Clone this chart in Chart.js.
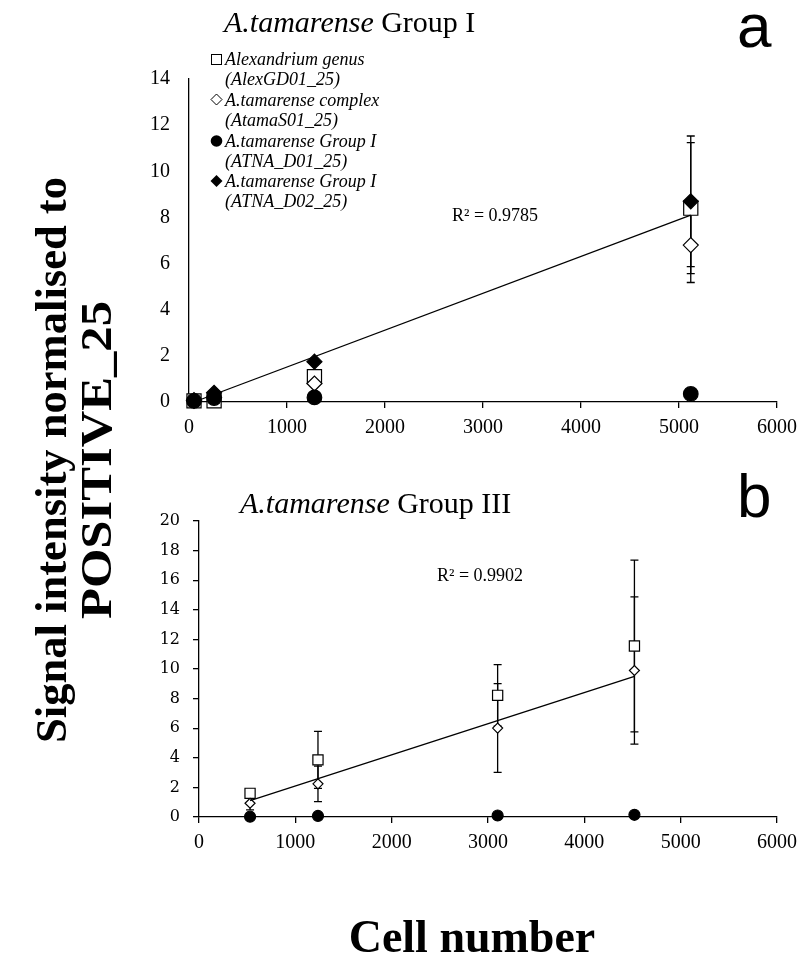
<!DOCTYPE html>
<html>
<head>
<meta charset="utf-8">
<script src="https://cdn.jsdelivr.net/npm/chart.js@4.4.1/dist/chart.umd.min.js"></script>
<style>
	html, body { margin: 0; padding: 0; background: #fff; }
	#page { position: relative; width: 805px; height: 962px; overflow: hidden; }
	#chart-a { position: absolute; left: 0; top: 0; }
	#chart-b { position: absolute; left: 0; top: 470px; }
	#labels { position: absolute; left: 0; top: 0; pointer-events: none; }
</style>
</head>
<body>
<div id="page">
	<canvas id="chart-a" width="805" height="460"></canvas>
	<canvas id="chart-b" width="805" height="400"></canvas>
	<svg id="labels" width="805" height="962" font-family="'Liberation Serif', 'Times New Roman', serif" fill="#000">
		<text x="224" y="32" font-size="30"><tspan font-style="italic">A.tamarense</tspan> Group I</text>
		<text x="737" y="47" font-family="'Liberation Sans', Arial, sans-serif" font-size="62">a</text>

		<g font-size="18" font-style="italic">
			<rect x="211.5" y="54.5" width="10" height="10" fill="#fff" stroke="#000" stroke-width="1"/>
			<text x="225" y="65">Alexandrium genus</text>
			<text x="225" y="85">(AlexGD01_25)</text>
			<polygon points="216.5,94 222,99.5 216.5,105 211,99.5" fill="#fff" stroke="#000" stroke-width="1"/>
			<text x="225" y="106">A.tamarense complex</text>
			<text x="225" y="126">(AtamaS01_25)</text>
			<circle cx="216.5" cy="141" r="5.8"/>
			<text x="225" y="147">A.tamarense Group I</text>
			<text x="225" y="167">(ATNA_D01_25)</text>
			<polygon points="216.5,175 222.5,181 216.5,187 210.5,181"/>
			<text x="225" y="187">A.tamarense Group I</text>
			<text x="225" y="207">(ATNA_D02_25)</text>
		</g>
		<text x="452" y="221" font-size="18">R² = 0.9785</text>

		<text x="240" y="513" font-size="30"><tspan font-style="italic">A.tamarense</tspan> Group III</text>
		<text x="737" y="517" font-family="'Liberation Sans', Arial, sans-serif" font-size="62">b</text>
		<text x="437" y="581" font-size="18">R² = 0.9902</text>

		<text x="472" y="952" text-anchor="middle" font-weight="bold" font-size="46">Cell number</text>
		<g font-weight="bold" font-size="44" text-anchor="middle">
			<text transform="translate(66,460) rotate(-90)" textLength="566" lengthAdjust="spacingAndGlyphs">Signal intensity normalised to</text>
			<text transform="translate(111,460) rotate(-90)" textLength="318" lengthAdjust="spacingAndGlyphs">POSITIVE_25</text>
		</g>
	</svg>
</div>
<script>
// ---- panel a: A.tamarense Group I ----
const CELLS_A = [51, 256, 1280, 5120];
const GENUS_A = [0.05, 0.05, 1.1, 8.4];
const GENUS_A_ERR = [null, null, null, 2.84];
const COMPLEX_A = [0.05, 0.2, 0.8, 6.8];
const COMPLEX_A_ERR = [null, null, null, 1.62];
const D01_A = [0.05, 0.17, 0.2, 0.35];
const D02_A = [0.08, 0.4, 1.75, 8.7];
const D02_A_ERR = [null, null, null, 2.83];
const TREND_A_X = [51, 5120];
const TREND_A_Y = [0, 8.1];

// ---- panel b: A.tamarense Group III ----
const CELLS_B = [530, 1235, 3100, 4520];
const GENUS_B = [1.6, 3.86, 8.22, 11.55];
const GENUS_B_ERR = [null, 1.92, 2.08, 5.8];
const COMPLEX_B = [0.93, 2.24, 6.01, 9.9];
const COMPLEX_B_ERR = [0.45, 1.2, 3.0, 4.97];
const D01_B = [0.02, 0.07, 0.1, 0.15];
const TREND_B_X = [530, 4520];
const TREND_B_Y = [1.1, 9.5];

const X_MAX = 6000;
const X_STEP = 1000;
const Y_MAX_A = 14;
const Y_MAX_B = 20;
const Y_STEP = 2;

const pts = (xs, ys) => xs.map((x, i) => ({ x: x, y: ys[i] }));
const TICK_FONT = { family: "'Liberation Serif', 'Times New Roman', serif", size: 20 };

// vertical error bars with caps, drawn behind the markers
const errorBars = {
	id: "errorBars",
	beforeDatasetsDraw(chart) {
		const { ctx } = chart;
		const xs = chart.scales.x;
		const ys = chart.scales.y;
		ctx.save();
		ctx.strokeStyle = "#000";
		ctx.lineWidth = 1.3;
		chart.data.datasets.forEach((ds) => {
			if (!ds.errors) return;
			ds.data.forEach((p, i) => {
				const e = ds.errors[i];
				if (e == null) return;
				const px = xs.getPixelForValue(p.x);
				const top = ys.getPixelForValue(p.y + e);
				const bot = ys.getPixelForValue(p.y - e);
				ctx.beginPath();
				ctx.moveTo(px, top);
				ctx.lineTo(px, bot);
				ctx.moveTo(px - 4, top);
				ctx.lineTo(px + 4, top);
				ctx.moveTo(px - 4, bot);
				ctx.lineTo(px + 4, bot);
				ctx.stroke();
			});
		});
		ctx.restore();
	},
};

const marker = (style, radius, fill) => ({
	pointStyle: style,
	pointRadius: radius,
	pointHoverRadius: radius,
	pointBackgroundColor: fill,
	pointBorderColor: "#000",
	pointBorderWidth: 1.2,
	showLine: false,
	clip: false,
});

const trend = (xs, ys) => ({
	data: pts(xs, ys),
	showLine: true,
	pointRadius: 0,
	borderColor: "#000",
	borderWidth: 1.3,
	clip: false,
});

const axisX = (height) => ({
	type: "linear",
	min: 0,
	max: X_MAX,
	ticks: {
		stepSize: X_STEP,
		font: TICK_FONT,
		color: "#000",
		padding: 8,
		maxRotation: 0,
		callback: (v) => String(v),
	},
	grid: { drawOnChartArea: false, drawTicks: true, tickLength: 6, color: "#000", lineWidth: 1.3 },
	border: { display: true, color: "#000", width: 1.3 },
	afterFit: (s) => { s.height = height; },
});

// panel a -- first dataset is drawn on top
new Chart(document.getElementById("chart-a"), {
	type: "scatter",
	data: {
		datasets: [
			trend(TREND_A_X, TREND_A_Y),
			{ data: pts(CELLS_A, D02_A), errors: D02_A_ERR, ...marker("rectRot", 7.5, "#000") },
			{ data: pts(CELLS_A, D01_A), ...marker("circle", 7.3, "#000") },
			{ data: pts(CELLS_A, COMPLEX_A), errors: COMPLEX_A_ERR, ...marker("rectRot", 7.5, "#fff") },
			{ data: pts(CELLS_A, GENUS_A), errors: GENUS_A_ERR, ...marker("rect", 10, "#fff") },
		],
	},
	options: {
		responsive: false,
		animation: false,
		layout: { padding: { top: 79, right: 28, left: 0, bottom: 0 } },
		plugins: { legend: { display: false }, tooltip: { enabled: false } },
		scales: {
			x: axisX(58),
			y: {
				type: "linear",
				min: 0,
				max: Y_MAX_A,
				ticks: { stepSize: Y_STEP, font: TICK_FONT, color: "#000", padding: 19 },
				grid: { display: false, drawTicks: false },
				border: { display: true, color: "#000", width: 1.3 },
				afterFit: (s) => { s.width = 189; },
			},
		},
	},
	plugins: [errorBars],
});

// panel b
new Chart(document.getElementById("chart-b"), {
	type: "scatter",
	data: {
		datasets: [
			trend(TREND_B_X, TREND_B_Y),
			{ data: pts(CELLS_B, D01_B), ...marker("circle", 5.5, "#000") },
			{ data: pts(CELLS_B, COMPLEX_B), errors: COMPLEX_B_ERR, ...marker("rectRot", 5, "#fff") },
			{ data: pts(CELLS_B, GENUS_B), errors: GENUS_B_ERR, ...marker("rect", 7.2, "#fff") },
		],
	},
	options: {
		responsive: false,
		animation: false,
		layout: { padding: { top: 51, right: 25, left: 0, bottom: 0 } },
		plugins: { legend: { display: false }, tooltip: { enabled: false } },
		scales: {
			x: axisX(53),
			y: {
				type: "linear",
				min: 0,
				max: Y_MAX_B,
				ticks: { stepSize: Y_STEP, font: { family: "'DejaVu Serif', serif", size: 16 }, color: "#000", padding: 13 },
				grid: { drawOnChartArea: false, drawTicks: true, tickLength: 6, color: "#000", lineWidth: 1.3 },
				border: { display: true, color: "#000", width: 1.3 },
				afterFit: (s) => { s.width = 199; },
			},
		},
	},
	plugins: [errorBars],
});
</script>
</body>
</html>
